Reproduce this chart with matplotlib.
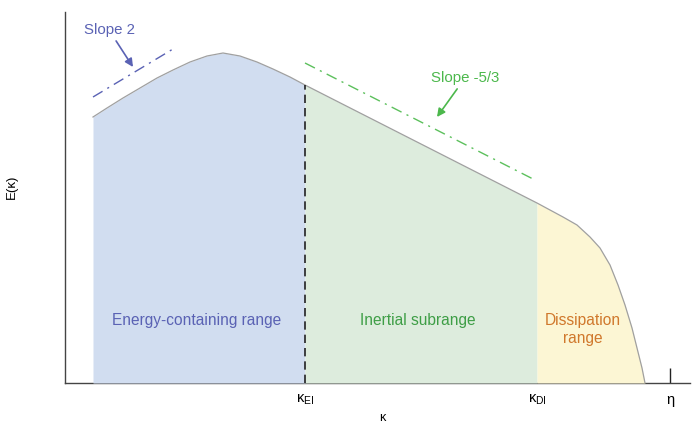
import matplotlib
matplotlib.use("Agg")
import matplotlib.pyplot as plt
import numpy as np

plt.rcParams['font.family'] = ['Liberation Sans', 'DejaVu Sans']
plt.rcParams['mathtext.fontset'] = 'custom'
plt.rcParams['mathtext.rm'] = 'Liberation Sans'
plt.rcParams['mathtext.it'] = 'Liberation Sans'
plt.rcParams['mathtext.default'] = 'rm'

# Curve (arbitrary units: kappa, E)
kappa = [28, 42, 58, 75, 92, 108, 125, 142, 158, 175, 192, 208, 225, 240,
         472, 485, 498, 512, 525, 535, 545, 553, 560, 567, 572, 577, 580]
energy = [266, 275, 285, 295, 305, 313, 321, 327, 330, 327, 321, 314, 306, 298,
          180, 173, 166, 158, 146, 135, 118, 98, 78, 55, 35, 15, 0]

k_EI = 240
k_DI = 472
k_eta = 605

# reference slope lines
slope2_x = [28, 108]
slope2_y = [286, 334]
slope53_x = [240, 470]
slope53_y = [320, 203]

tick_pos = [k_EI, k_DI, k_eta]
tick_labels = [r'$\kappa_{\mathrm{EI}}$', r'$\kappa_{\mathrm{DI}}$', 'η']

range_labels = ['Energy-containing range', 'Inertial subrange', 'Dissipation\nrange']
range_colors = ['#5a62b4', '#3e9e46', '#d0782c']
fill_colors = ['#d1ddf0', '#ddecdd', '#fcf6d4']

W, H = 694, 423
fig = plt.figure(figsize=(W / 100, H / 100), dpi=100)
ax = fig.add_axes([65 / W, 40 / H, 625 / W, 371 / H])
ax.set_xlim(0, 625)
ax.set_ylim(0, 371)

k = np.array(kappa, dtype=float)
e = np.array(energy, dtype=float)

m1 = k <= k_EI
m2 = (k >= k_EI) & (k <= k_DI)
m3 = k >= k_DI
for m, c in zip([m1, m2, m3], fill_colors):
    ax.fill_between(k[m], 0, e[m], color=c, lw=0, zorder=3)
ax.plot(k, e, color='#a0a0a0', lw=0.9, zorder=4, solid_joinstyle='round')

# dashed separator
e_EI = e[k == k_EI][0]
ax.plot([k_EI, k_EI], [0, e_EI], color='#222222', lw=1.2, ls=(0, (5, 3)), zorder=5)

# slope reference lines
ax.plot(slope2_x, slope2_y, color='#5a62b4', lw=1.0, ls='-.', dashes=(8, 4, 1.5, 4), zorder=5)
ax.plot(slope53_x, slope53_y, color='#5cc05c', lw=1.0, ls='-.', dashes=(8, 4, 1.5, 4), zorder=5)

# annotations
ax.annotate('Slope 2', xy=(68, 316), xytext=(44, 353), color='#5a62b4', fontsize=10.8,
            ha='center', va='center',
            arrowprops=dict(arrowstyle='-|>', color='#5a62b4', lw=1.2, mutation_scale=12,
                            shrinkA=1, shrinkB=0), zorder=6)
ax.annotate('Slope -5/3', xy=(372, 266), xytext=(400, 305), color='#4cb84c', fontsize=10.8,
            ha='center', va='center',
            arrowprops=dict(arrowstyle='-|>', color='#4cb84c', lw=1.2, mutation_scale=12,
                            shrinkA=1, shrinkB=0), zorder=6)

# range labels
ax.text(132, 62, range_labels[0], color=range_colors[0], fontsize=11.2, ha='center', va='center', zorder=6)
ax.text(353, 62, range_labels[1], color=range_colors[1], fontsize=11.2, ha='center', va='center', zorder=6)
ax.text(518, 53, range_labels[2], color=range_colors[2], fontsize=11.2, ha='center', va='center',
        linespacing=1.25, zorder=6)

# spines
for s in ['top', 'right']:
    ax.spines[s].set_visible(False)
for s in ['left', 'bottom']:
    ax.spines[s].set_color('#444444')
    ax.spines[s].set_linewidth(1.0)
    ax.spines[s].set_zorder(2)

ax.set_yticks([])
ax.set_xticks(tick_pos)
ax.set_xticklabels(tick_labels, fontsize=10.5)
ax.tick_params(axis='x', direction='in', length=11, width=1.0, color='#222222', pad=7)
ticks = ax.xaxis.get_major_ticks()
ticks[0].tick1line.set_visible(False)
ticks[1].tick1line.set_visible(False)

ax.set_xlabel('κ', fontsize=9)
ax.xaxis.set_label_coords((382 - 65) / 625, -(412 - 383) / 371)
ax.set_ylabel('E(κ)', fontsize=9.5)
ax.yaxis.set_label_coords(-(65 - 18) / 625, (383 - 187) / 371)

fig.savefig('out.png', dpi=100)
